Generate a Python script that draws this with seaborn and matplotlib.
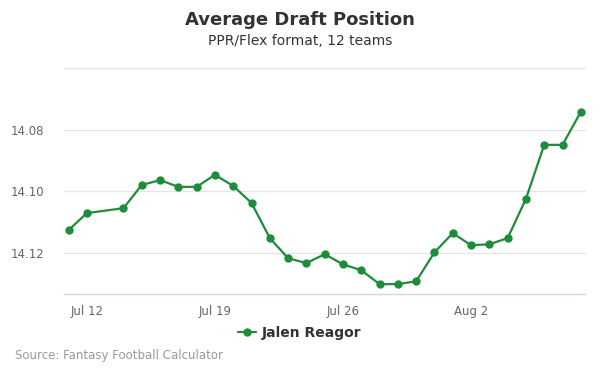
import matplotlib
matplotlib.use("Agg")
import matplotlib.pyplot as plt
import matplotlib.dates as mdates
import seaborn as sns
import pandas as pd
import numpy as np

dates = ["2020-07-11", "2020-07-12", "2020-07-14", "2020-07-15", "2020-07-16", "2020-07-17",
         "2020-07-18", "2020-07-19", "2020-07-20", "2020-07-21", "2020-07-22", "2020-07-23",
         "2020-07-24", "2020-07-25", "2020-07-26", "2020-07-27", "2020-07-28", "2020-07-29",
         "2020-07-30", "2020-07-31", "2020-08-01", "2020-08-02", "2020-08-03", "2020-08-04",
         "2020-08-05", "2020-08-06", "2020-08-07", "2020-08-08"]
adp = [14.1125, 14.1070, 14.1054, 14.0979, 14.0963, 14.0985, 14.0985, 14.0946, 14.0982,
       14.1037, 14.1151, 14.1216, 14.1232, 14.1203, 14.1236, 14.1255, 14.1300, 14.1300,
       14.1291, 14.1197, 14.1135, 14.1174, 14.1171, 14.1151, 14.1024, 14.0849, 14.0849,
       14.0742]
player = "Jalen Reagor"
y_ticks = [14.08, 14.10, 14.12]
x_ticks = ["2020-07-12", "2020-07-19", "2020-07-26", "2020-08-02"]
x_tick_labels = ["Jul 12", "Jul 19", "Jul 26", "Aug 2"]

df = pd.DataFrame({"date": pd.to_datetime(dates), "adp": adp, "player": player})

sns.set_theme(style="white")
plt.rcParams['font.family'] = ['DejaVu Sans']

fig = plt.figure(figsize=(6, 3.75), dpi=100)
ax = fig.add_axes([64/600, (375-294)/375, (585-64)/600, (294-68)/375])

green = "#1f8c3b"
sns.lineplot(data=df, x="date", y="adp", ax=ax, color=green, marker="o",
             markersize=6, markeredgewidth=0, linewidth=1.6, label=player)

ax.set_xlim(pd.Timestamp("2020-07-10 18:00"), pd.Timestamp("2020-08-08 05:30"))
ax.set_ylim(14.1332, 14.0600)

for g in [14.06] + y_ticks:
    ax.axhline(g, color="#e6e6e6", linewidth=1, zorder=0, clip_on=False)
ax.set_yticks(y_ticks)
ax.set_yticklabels([f"{v:.2f}" for v in y_ticks], color="#666666", fontsize=8.5)
ax.set_xticks(pd.to_datetime(x_ticks))
ax.set_xticklabels(x_tick_labels, color="#666666", fontsize=8.5)
ax.tick_params(axis="y", length=0, pad=14)
ax.tick_params(axis="x", length=6, color="#ccd6eb", width=1, direction="out", pad=2)

for s in ["top", "left", "right"]:
    ax.spines[s].set_visible(False)
ax.spines["bottom"].set_color("#ccd6eb")
ax.spines["bottom"].set_linewidth(1)
ax.set_xlabel("")
ax.set_ylabel("")

leg = ax.legend(loc="center", bbox_to_anchor=(300/600, 1 - 333/375), bbox_transform=fig.transFigure,
                frameon=False, prop={"weight": "bold", "size": 10}, handlelength=1.3,
                handletextpad=0.4)
for t in leg.get_texts():
    t.set_color("#333333")

fig.text(0.5, 1 - 20/375, "Average Draft Position", ha="center", va="center",
         fontsize=13, fontweight="bold", color="#333333")
fig.text(0.5, 1 - 41/375, "PPR/Flex format, 12 teams", ha="center", va="center",
         fontsize=10, color="#333333")
fig.text(15/600, 1 - 356/375, "Source: Fantasy Football Calculator", ha="left", va="center",
         fontsize=8.5, color="#999999")

fig.savefig("out.png", dpi=100)
